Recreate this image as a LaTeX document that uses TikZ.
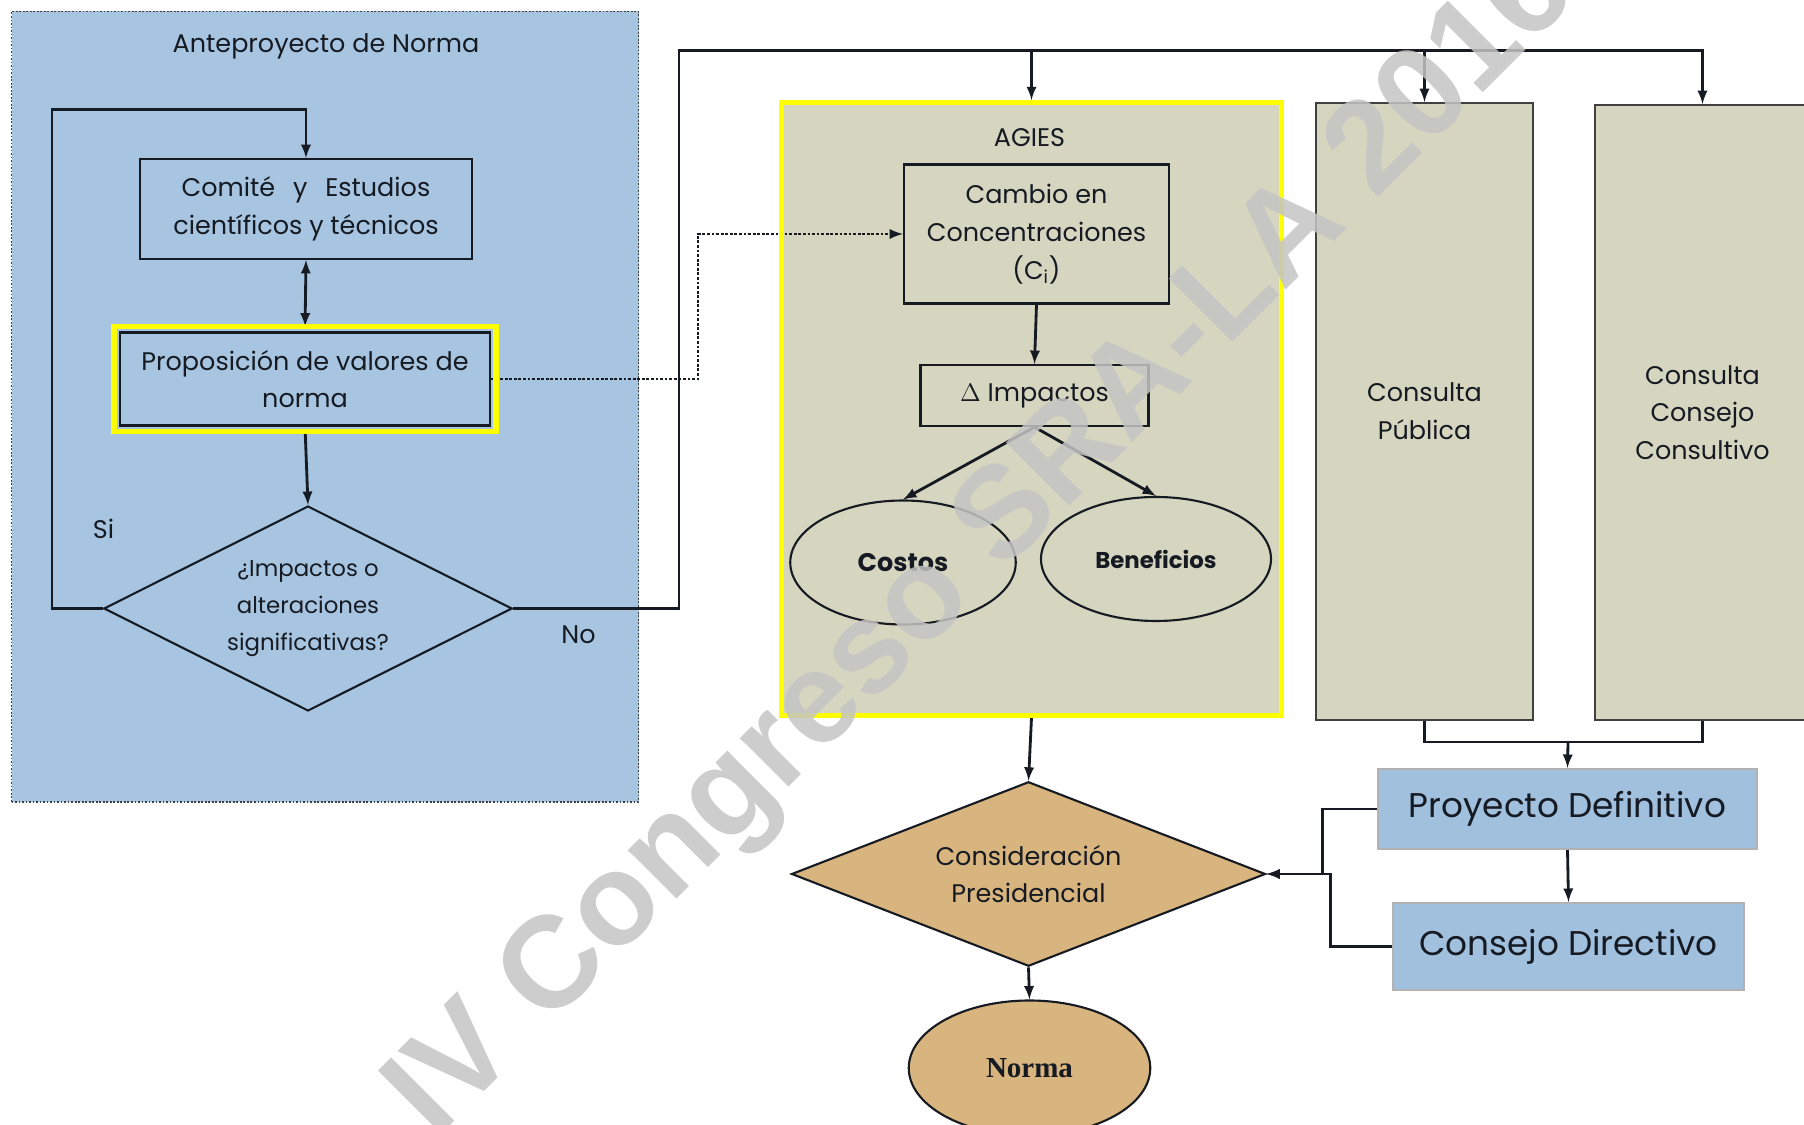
\documentclass[tikz,border=0pt]{standalone}
\usepackage{fontspec}
\setmainfont{Poppins}
\newfontfamily\normafont{Liberation Serif}
\newfontfamily\markfont{Liberation Sans}
\usetikzlibrary{shapes.geometric}

\definecolor{panelblue}{RGB}{167,197,224}
\definecolor{stepblue}{RGB}{160,192,222}
\definecolor{agiesgray}{RGB}{214,213,192}
\definecolor{presitan}{RGB}{216,180,127}
\definecolor{markyellow}{RGB}{255,255,0}
\definecolor{linedark}{RGB}{22,26,34}
\definecolor{markgray}{RGB}{196,196,196}

\newcommand{\fs}[2]{\fontsize{#1}{#2}\selectfont}

\tikzset{
  boxnode/.style={draw=linedark,line width=1.2pt,align=center,inner sep=2pt,
    text=linedark,font=\fs{14.5}{21.5}},
  decnode/.style={diamond,draw=linedark,line width=1.2pt,inner sep=0pt},
  ellnode/.style={ellipse,draw=linedark,line width=1.2pt,inner sep=0pt,text=linedark},
  consbox/.style={boxnode,fill=agiesgray,draw=black!75,line width=1.1pt},
  stepbox/.style={boxnode,fill=stepblue,draw=black!30,line width=1pt,font=\fs{19.5}{24}},
  flow/.style={->,line width=1.6pt,draw=linedark},
  yellowframe/.style={draw=markyellow,line width=3.2pt},
  plain/.style={text=linedark,align=center,font=\fs{14.5}{21.5}},
}

\begin{document}
\begin{tikzpicture}[>=latex]
  \useasboundingbox (0,0) rectangle (36.08,22.48);
  \clip (0,0) rectangle (36.08,22.48);

  % Anteproyecto de Norma
  \node[draw=black!75,densely dotted,line width=1pt,fill=panelblue,
    minimum width=12.54cm,minimum height=15.81cm,inner sep=0pt] (ante) at (6.50,14.345) {};
  \node[plain] (antetitle) at (6.52,21.56) {Anteproyecto de Norma};
  \node[boxnode,minimum width=6.64cm,minimum height=2.0cm] (comite) at (6.12,18.30)
    {Comité\hspace{0.7em}y\hspace{0.7em}Estudios\\científicos y técnicos};
  \node[boxnode,minimum width=7.4cm,minimum height=1.86cm] (prop) at (6.10,14.90)
    {Proposición de valores de\\norma};
  \node[decnode,minimum width=8.17cm,minimum height=4.10cm] (impq) at (6.16,10.31) {};
  \node[plain,font=\fs{13}{21}] (impqtext) at (impq) {¿Impactos o\\alteraciones\\significativas?};
  \node[plain] (si) at (2.07,11.90) {Si};
  \node[plain] (no) at (11.57,9.78) {No};

  % AGIES
  \node[fill=agiesgray,draw=black!45,densely dotted,line width=1pt,
    minimum width=10.06cm,minimum height=12.32cm,inner sep=0pt] (agies) at (20.63,14.30) {};
  \node[plain] (agiestitle) at (20.59,19.72) {AGIES};
  \node[boxnode,minimum width=5.30cm,minimum height=2.78cm] (cambio) at (20.73,17.80)
    {Cambio en\\Concentraciones\\(C\textsubscript{i})};
  \node[boxnode,minimum width=4.56cm,minimum height=1.22cm] (imp) at (20.69,14.57)
    {$\Delta$ Impactos};
  \node[ellnode,minimum width=4.51cm,minimum height=2.48cm,font=\bfseries\fs{14.5}{18}] (costos)
    at (18.06,11.23) {Costos};
  \node[ellnode,minimum width=4.60cm,minimum height=2.48cm,font=\bfseries\fs{13}{18}] (benef)
    at (23.12,11.30) {Beneficios};

  % consultas
  \node[consbox,minimum width=4.33cm,minimum height=12.34cm] (cpub) at (28.49,14.25)
    {Consulta\\Pública};
  \node[consbox,minimum width=4.29cm,minimum height=12.30cm] (ccons) at (34.05,14.23)
    {Consulta\\Consejo\\Consultivo};

  % abajo
  \node[stepbox,minimum width=7.58cm,minimum height=1.61cm] (pd) at (31.35,6.30) {Proyecto Definitivo};
  \node[stepbox,minimum width=7.02cm,minimum height=1.75cm] (cd) at (31.37,3.55) {Consejo Directivo};
  \node[decnode,fill=presitan,minimum width=9.48cm,minimum height=3.69cm] (pres) at (20.57,5.00) {};
  \node[plain] (prestext) at (pres) {Consideración\\Presidencial};
  \node[ellnode,fill=presitan,minimum width=4.83cm,minimum height=2.70cm,
    font=\normafont\bfseries\fs{16.5}{18}] (norma) at (20.59,1.12) {Norma};

  % connectors
  \coordinate (topline) at (13.58,21.47);
  \coordinate (dotbend) at (13.96,17.80);
  \coordinate (consjoin) at (31.36,7.64);
  \draw[flow] (impq.west) -| (1.04,20.29) -| (comite.north);
  \draw[flow,<->,shorten >=0.1cm] (comite.south) -- (prop.north);
  \draw[flow,shorten <=0.1cm] (prop.south) -- (impq.north);
  \draw[flow] (impq.east) -| (topline) -| (ccons.north);
  \draw[flow] (topline -| agies.north) -- (agies.north);
  \draw[flow] (topline -| cpub.north) -- (cpub.north);
  \draw[flow,densely dotted] (prop.east) -| (dotbend) -- (cambio.west);
  \draw[flow] (cambio.south) -- (imp.north);
  \draw[flow] (imp.south) -- (costos.north);
  \draw[flow] (imp.south) -- (benef.north);
  \draw[line width=1.6pt,draw=linedark] (cpub.south) |- (consjoin) -| (ccons.south);
  \draw[flow] (consjoin) -- (pd.north);
  \draw[flow] (pd.south) -- (cd.north);
  \draw[flow] (agies.south) -- (pres.north);
  \draw[flow] (pd.west) -- ++(-1.10,0) |- (pres.east);
  \draw[flow] (cd.west) -- ++(-1.24,0) |- (pres.east);
  \draw[flow] (pres.south) -- (norma.north);

  % marcos amarillos
  \draw[yellowframe] ([shift={(-0.1,0.1)}]prop.north west) rectangle ([shift={(0.1,-0.1)}]prop.south east);
  \draw[yellowframe] ([shift={(0.05,-0.05)}]agies.north west) rectangle ([shift={(-0.05,0.05)}]agies.south east);

  % marca de agua
  \node[rotate=45,text=markgray,text opacity=0.85,inner sep=0pt,
    font=\markfont\bfseries\fs{74}{74}] (mark) at (19.70,11.56) {IV Congreso SRA-LA 2016};
\end{tikzpicture}
\end{document}
